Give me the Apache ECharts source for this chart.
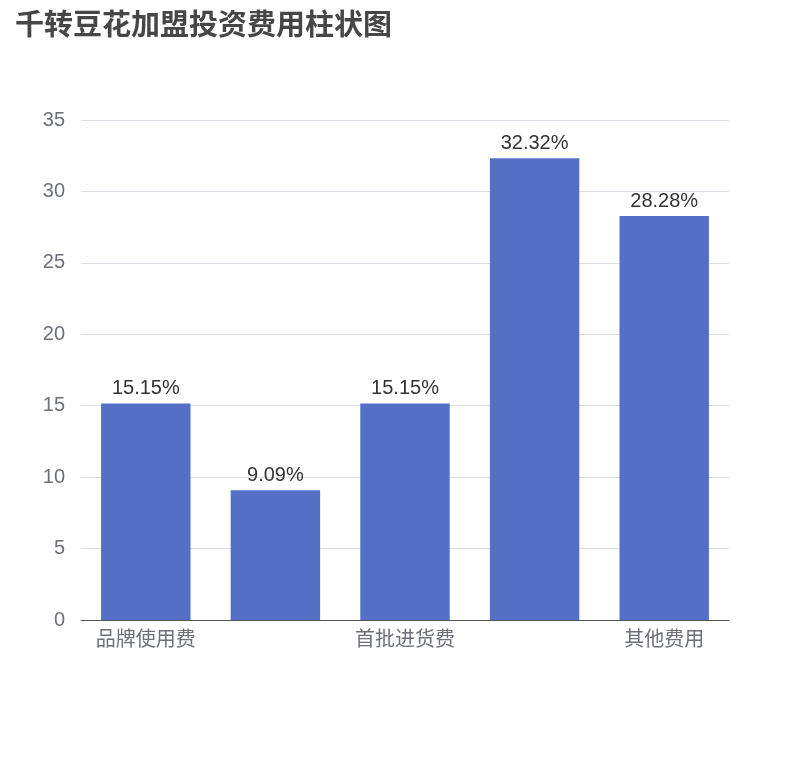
<!DOCTYPE html>
<html><head><meta charset="utf-8">
<script src="https://cdn.jsdelivr.net/npm/echarts@6/dist/echarts.min.js"></script>
<style>body{margin:0}#c{width:810px;height:760px}</style></head>
<body><div id="c"></div>
<script>
const categories = ['品牌使用费', '加盟费', '首批进货费', '店面装修费', '其他费用'];
const values = [15.15, 9.09, 15.15, 32.32, 28.28];
const chart = echarts.init(document.getElementById('c'));
chart.setOption({
  title: { text: '千转豆花加盟投资费用柱状图', left: 10, top: 4,
    textStyle: { fontSize: 29, fontWeight: 'bold', color: '#464646', fontFamily: 'Noto Sans CJK SC' } },
  grid: { left: 81, right: 81, top: 120, bottom: 140 },
  xAxis: { type: 'category', data: categories,
    axisTick: { interval: 1 },
    axisLabel: { interval: 1, fontSize: 20, color: '#6e7079', fontFamily: 'Noto Sans CJK SC' } },
  yAxis: { type: 'value', min: 0, max: 35, interval: 5,
    axisLabel: { fontSize: 20, color: '#6e7079', margin: 16 } },
  series: [{ type: 'bar', data: values, barWidth: '69%',
    itemStyle: { color: '#5470c6' },
    label: { show: true, position: 'top', fontSize: 20, color: '#333', formatter: p => p.value.toFixed(2) + '%' } }]
});
</script></body></html>
